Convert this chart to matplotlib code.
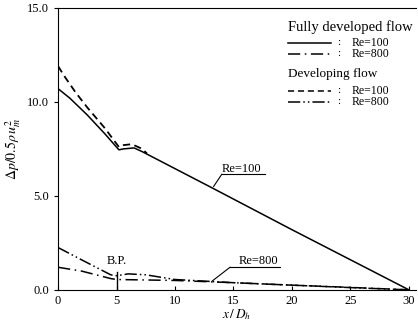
import matplotlib.pyplot as plt

plt.rcParams['font.family'] = ['Liberation Serif', 'DejaVu Serif']
plt.rcParams['mathtext.fontset'] = 'stix'

# Re=100, fully developed (solid) and developing (dashed)
x_fd100 = [0, 1, 2.5, 4, 5.2, 5.6, 6.5, 7.2, 13, 20, 30]
y_fd100 = [10.7, 10.2, 9.3, 8.3, 7.45, 7.5, 7.55, 7.35, 5.48, 3.2, 0.0]
x_dv100 = [0, 0.5, 1.5, 2.5, 4, 5.2, 5.6, 6.3, 7.2, 7.6]
y_dv100 = [11.9, 11.4, 10.5, 9.7, 8.6, 7.6, 7.7, 7.75, 7.5, 7.25]

# Re=800, fully developed (dash-dot) and developing (dash-dot-dot)
x_fd800 = [0, 2, 4.5, 5, 10, 15, 20, 25, 30]
y_fd800 = [1.2, 1.0, 0.6, 0.55, 0.5, 0.38, 0.25, 0.13, 0.0]
x_dv800 = [0, 2, 4.5, 5, 6, 7.5, 10, 15, 20, 25, 30]
y_dv800 = [2.25, 1.6, 0.8, 0.75, 0.85, 0.8, 0.55, 0.38, 0.25, 0.12, 0.0]

xticks = [0, 5, 10, 15, 20, 25, 30]
yticks = [0.0, 5.0, 10.0, 15.0]

fig = plt.figure(figsize=(4.18, 3.29), dpi=100)
ax = fig.add_axes([0.139, 0.119, 0.856, 0.857])

ax.plot(x_fd100, y_fd100, color='black', lw=1.1, ls='-')
ax.plot(x_dv100, y_dv100, color='black', lw=1.3, ls=(0, (4, 2.5)))
ax.plot(x_fd800, y_fd800, color='black', lw=1.1, ls=(0, (8, 3, 1, 3)))
ax.plot(x_dv800, y_dv800, color='black', lw=1.1, ls=(0, (8, 2, 1, 2, 1, 2)))

# B.P. marker
ax.plot([5, 5], [0, 0.95], color='black', lw=1.0)
ax.text(5, 1.2, 'B.P.', ha='center', va='bottom', fontsize=9)

# curve labels with leaders
ax.text(14.0, 6.1, 'Re=100', ha='left', va='bottom', fontsize=9)
ax.plot([14.0, 17.7], [6.15, 6.15], color='black', lw=0.8)
ax.plot([14.0, 13.3], [6.15, 5.5], color='black', lw=0.8)
ax.text(15.4, 1.2, 'Re=800', ha='left', va='bottom', fontsize=9)
ax.plot([14.7, 19.0], [1.2, 1.2], color='black', lw=0.8)
ax.plot([14.7, 13.2], [1.2, 0.48], color='black', lw=0.8)

# hand-made legend
lx0, lx1, lc, lt = 19.7, 23.3, 23.9, 25.1
ax.text(lx0, 13.99, 'Fully developed flow', ha='left', va='center', fontsize=10.5)
ax.plot([lx0, lx1], [13.14, 13.14], color='black', lw=1.1, ls='-')
ax.plot([lx0, lx1], [12.55, 12.55], color='black', lw=1.1, ls=(0, (8, 3, 1, 3)))
ax.text(lc, 13.14, ':', ha='left', va='center', fontsize=8)
ax.text(lc, 12.55, ':', ha='left', va='center', fontsize=8)
ax.text(lt, 13.14, 'Re=100', ha='left', va='center', fontsize=8.5)
ax.text(lt, 12.55, 'Re=800', ha='left', va='center', fontsize=8.5)
ax.text(lx0, 11.49, 'Developing flow', ha='left', va='center', fontsize=9.5)
ax.plot([lx0, lx1], [10.59, 10.59], color='black', lw=1.1, ls=(0, (4, 2.5)))
ax.plot([lx0, lx1], [10.0, 10.0], color='black', lw=1.1, ls=(0, (8, 2, 1, 2, 1, 2)))
ax.text(lc, 10.59, ':', ha='left', va='center', fontsize=8)
ax.text(lc, 10.0, ':', ha='left', va='center', fontsize=8)
ax.text(lt, 10.59, 'Re=100', ha='left', va='center', fontsize=8.5)
ax.text(lt, 10.0, 'Re=800', ha='left', va='center', fontsize=8.5)

ax.set_xlim(0, 30.6)
ax.set_ylim(0, 15)
ax.set_xticks(xticks)
ax.set_xticklabels([str(t) for t in xticks], fontsize=9)
ax.set_yticks(yticks)
ax.set_yticklabels(['%.1f' % t for t in yticks], fontsize=9)
ax.tick_params(axis='x', direction='in', length=3)
ax.tick_params(axis='y', direction='out', length=3)
ax.spines['right'].set_visible(False)
ax.set_xlabel(r'$x\,/\,D_h$', fontsize=9.5, labelpad=0)
ax.set_ylabel(r'$\Delta p/0.5\rho\,u_m^2$', fontsize=10, labelpad=3)

fig.savefig('out.png', dpi=100)
